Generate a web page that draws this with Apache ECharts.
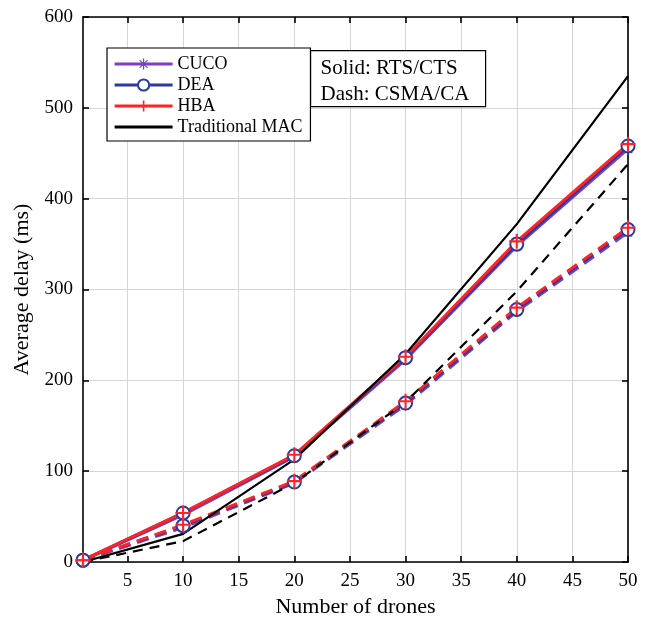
<!DOCTYPE html>
<html>
<head>
<meta charset="utf-8">
<script src="https://cdn.jsdelivr.net/npm/echarts@6/dist/echarts.min.js"></script>
<style>html,body{margin:0;padding:0;background:#fff}#c{width:650px;height:625px}</style>
</head>
<body>
<div id="c"></div>
<script>
// ---- data ----
var drones = [1, 10, 20, 30, 40, 50];
var cucoRts = [2, 52, 116, 223, 348, 455];
var deaRts  = [2, 54, 117, 225, 350, 458];
var hbaRts  = [2, 54, 118, 226, 353, 460];
var cucoCsma = [2, 38, 87, 173, 276, 363];
var deaCsma  = [2, 40, 88, 175, 278, 366];
var hbaCsma  = [2, 41, 89, 177, 280, 368];
var macRts  = [0, 31, 113, 229, 372, 535];
var macCsma = [0, 23, 87, 176, 298, 438];
var xTicks = [5, 10, 15, 20, 25, 30, 35, 40, 45, 50];
var yTicks = [0, 100, 200, 300, 400, 500, 600];
var legendNames = ['CUCO', 'DEA', 'HBA', 'Traditional MAC'];
var noteLines = ['Solid: RTS/CTS', 'Dash: CSMA/CA'];

var FONT = '"Liberation Serif", "Times New Roman", serif';
var PURPLE = '#7B3FC0', BLUE = '#2B3A9E', RED = '#FF2424', BLACK = '#000000';
var STAR = 'path://M9,0H11V20H9Z M0,9H20V11H0Z M2.2,3.6L3.6,2.2L17.8,16.4L16.4,17.8Z M16.4,2.2L17.8,3.6L3.6,17.8L2.2,16.4Z';
var PLUS = 'path://M8.6,0H11.4V8.6H20V11.4H11.4V20H8.6V11.4H0V8.6H8.6Z';

function pairs(ys) { return drones.map(function (x, i) { return [x, ys[i]]; }); }

function mk(name, ys, color, dashed, symbol, size, width, extraItem) {
  return {
    name: name, type: 'line', data: pairs(ys),
    symbol: symbol, symbolSize: size, showSymbol: symbol !== 'none',
    lineStyle: { color: color, width: width, type: dashed ? [12, 7] : 'solid' },
    itemStyle: Object.assign({ color: color }, extraItem || {}),
    emphasis: { disabled: true }, z: 2
  };
}

var series = [
  mk('CUCO', cucoRts, PURPLE, false, STAR, 12, 3.2),
  mk('CUCO (CSMA/CA)', cucoCsma, PURPLE, true, STAR, 12, 3.2),
  mk('DEA', deaRts, BLUE, false, 'emptyCircle', 13, 3.2, { borderWidth: 3.5, borderColor: BLUE }),
  mk('DEA (CSMA/CA)', deaCsma, BLUE, true, 'emptyCircle', 13, 3.2, { borderWidth: 3.5, borderColor: BLUE }),
  mk('HBA', hbaRts, RED, false, PLUS, 15, 3.0),
  mk('HBA (CSMA/CA)', hbaCsma, RED, true, PLUS, 15, 3.0),
  mk('Traditional MAC', macRts, BLACK, false, 'none', 0, 2.2),
  mk('Traditional MAC (CSMA/CA)', macCsma, BLACK, true, 'none', 0, 2.2)
];
series[7].lineStyle.type = [10, 7];

var legendData = [
  { name: legendNames[0], lineStyle: { width: 3.2 } },
  { name: legendNames[1], lineStyle: { width: 3.2 }, itemStyle: { borderWidth: 2.5 } },
  { name: legendNames[2], lineStyle: { width: 3.2 } },
  { name: legendNames[3], lineStyle: { width: 3 }, itemStyle: { opacity: 0 } }
];

var chart = echarts.init(document.getElementById('c'), null, { renderer: 'canvas' });
chart.setOption({
  animation: false,
  backgroundColor: '#fff',
  textStyle: { fontFamily: FONT },
  grid: { left: 83, right: 22, top: 17, bottom: 63 },
  xAxis: [{
    type: 'value', min: 1, max: 50, position: 'bottom',
    name: 'Number of drones', nameLocation: 'middle', nameGap: 34,
    nameTextStyle: { fontSize: 22, color: '#000', fontFamily: FONT },
    axisLine: { show: true, onZero: false, lineStyle: { color: '#000', width: 1.6 } },
    axisTick: { show: true, inside: true, length: 6, customValues: xTicks, lineStyle: { color: '#000', width: 1.6 } },
    axisLabel: { customValues: xTicks, fontSize: 19, color: '#000', margin: 10, fontFamily: FONT },
    splitLine: { show: true, lineStyle: { color: '#d6d6d6', width: 1 } }
  }, {
    type: 'value', min: 1, max: 50, position: 'top',
    axisLine: { show: true, onZero: false, lineStyle: { color: '#000', width: 1.6 } },
    axisTick: { show: true, inside: true, length: 6, customValues: xTicks, lineStyle: { color: '#000', width: 1.6 } },
    axisLabel: { show: false }, splitLine: { show: false }
  }],
  yAxis: [{
    type: 'value', min: 0, max: 600, interval: 100, position: 'left',
    name: 'Average delay (ms)', nameLocation: 'middle', nameGap: 48,
    nameTextStyle: { fontSize: 22, color: '#000', fontFamily: FONT },
    axisLine: { show: true, onZero: false, lineStyle: { color: '#000', width: 1.6 } },
    axisTick: { show: true, inside: true, length: 6, lineStyle: { color: '#000', width: 1.6 } },
    axisLabel: { fontSize: 19, color: '#000', margin: 10, fontFamily: FONT,
      formatter: function (v) { return yTicks.indexOf(v) >= 0 ? String(v) : ''; } },
    splitLine: { show: true, lineStyle: { color: '#d6d6d6', width: 1 } }
  }, {
    type: 'value', min: 0, max: 600, interval: 100, position: 'right',
    axisLine: { show: true, onZero: false, lineStyle: { color: '#000', width: 1.6 } },
    axisTick: { show: true, inside: true, length: 6, lineStyle: { color: '#000', width: 1.6 } },
    axisLabel: { show: false }, splitLine: { show: false }
  }],
  legend: {
    data: legendData, orient: 'vertical', left: 107, top: 48, z: 4,
    backgroundColor: '#fff', borderColor: '#000', borderWidth: 1.2,
    padding: [7, 8, 5, 6], itemWidth: 58, itemHeight: 14, itemGap: 3,
    textStyle: { fontSize: 18, color: '#000', fontFamily: FONT },
    selectedMode: false
  },
  graphic: [{
    type: 'group', left: 310, top: 50, z: 100, zlevel: 1,
    children: [
      { type: 'rect', z: 100, shape: { x: 0, y: 0, width: 175, height: 56 },
        style: { fill: '#fff', stroke: '#000', lineWidth: 1.2 } },
      { type: 'text', z: 101, x: 10, y: 7, style: { text: noteLines[0], font: '21px ' + FONT, fill: '#000' } },
      { type: 'text', z: 101, x: 10, y: 33, style: { text: noteLines[1], font: '21px ' + FONT, fill: '#000' } }
    ]
  }],
  series: series
});
</script>
</body>
</html>
